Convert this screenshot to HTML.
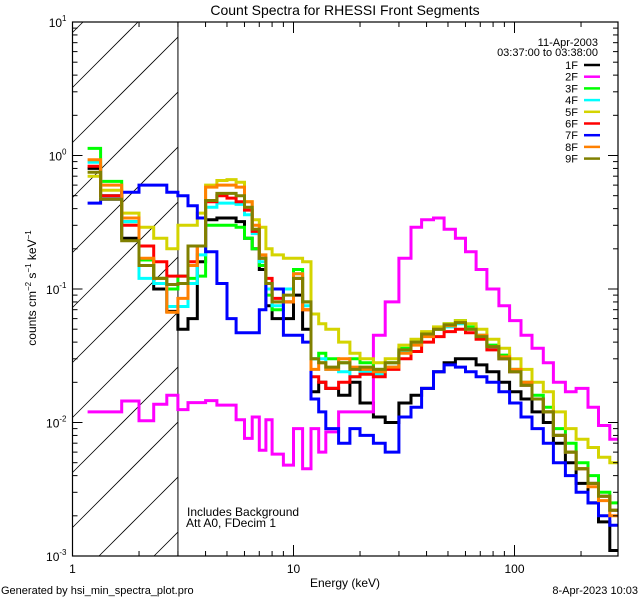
<!DOCTYPE html>
<html><head><meta charset="utf-8">
<style>
html,body{margin:0;padding:0;background:#fff;overflow:hidden;width:640px;height:600px;}
svg{display:block;font-family:"Liberation Sans",sans-serif;}
</style></head>
<body>
<svg id="chart" width="640" height="600" viewBox="0 0 640 600" xmlns="http://www.w3.org/2000/svg">
<rect width="640" height="600" fill="#fff"/>
<text x="345" y="15" font-size="14" text-anchor="middle">Count Spectra for RHESSI Front Segments</text>
<g id="hatch"></g>
<g id="series"></g>
<g id="axes"></g>
<g id="legend"></g>
<text x="345" y="587" font-size="12" text-anchor="middle">Energy (keV)</text>
<text transform="translate(36,288) rotate(-90)" font-size="12" text-anchor="middle">counts cm<tspan dy="-5" font-size="8">−2</tspan><tspan dy="5"> s</tspan><tspan dy="-5" font-size="8">−1</tspan><tspan dy="5"> keV</tspan><tspan dy="-5" font-size="8">−1</tspan></text>
<text x="187" y="516" font-size="12">Includes Background</text>
<text x="186" y="527" font-size="12">Att A0, FDecim 1</text>
<text x="1" y="594" font-size="11">Generated by hsi_min_spectra_plot.pro</text>
<text x="638" y="594" font-size="11" text-anchor="end">8-Apr-2023 10:03</text>
</svg>
<script>
const edges=[1.17,1.34,1.67,2,2.33,2.67,3,3.33,3.67,4,4.5,5,5.5,6,6.5,7,7.5,8,9,10,11,12,13,14,16,18,20,23,26,30,34,38,43,48,54,60,67,75,85,95,107,120,135,150,170,190,215,240,270,300];
const labels=["1F","2F","3F","4F","5F","6F","7F","8F","9F"];
const colors=["#000000","#ff00ff","#00ff00","#00ffff","#d4d400","#ff0000","#0000ff","#ff8000","#808000"];
const s1F=[0.8,0.5,0.24,0.15,0.10,0.068,0.05,0.06,0.16,0.33,0.34,0.34,0.32,0.24,0.2,0.14,0.075,0.06,0.06,0.09,0.05,0.017,0.02,0.018,0.016,0.02,0.014,0.011,0.01,0.014,0.016,0.018,0.024,0.028,0.03,0.03,0.027,0.024,0.02,0.017,0.015,0.012,0.01,0.007,0.005,0.0035,0.0025,0.0018,0.0011];
const s2F=[0.012,0.012,0.0145,0.0103,0.0137,0.016,0.0125,0.0141,0.0141,0.0146,0.0135,0.0135,0.0105,0.0076,0.011,0.0062,0.0105,0.0058,0.0048,0.009,0.0045,0.009,0.006,0.0085,0.012,0.012,0.012,0.045,0.08,0.17,0.29,0.33,0.34,0.28,0.24,0.19,0.14,0.1,0.075,0.058,0.045,0.036,0.028,0.02,0.017,0.018,0.013,0.0095,0.0075];
const s3F=[1.13,0.64,0.32,0.165,0.12,0.10,0.125,0.12,0.125,0.30,0.30,0.30,0.29,0.24,0.2,0.15,0.09,0.07,0.08,0.14,0.08,0.03,0.033,0.03,0.028,0.03,0.028,0.025,0.028,0.036,0.04,0.045,0.05,0.055,0.058,0.052,0.045,0.038,0.032,0.025,0.02,0.016,0.013,0.009,0.007,0.005,0.004,0.003,0.0025];
const s4F=[0.89,0.5,0.32,0.12,0.11,0.074,0.074,0.11,0.18,0.41,0.44,0.44,0.43,0.36,0.26,0.16,0.1,0.075,0.1,0.13,0.075,0.03,0.03,0.025,0.024,0.022,0.024,0.023,0.026,0.034,0.04,0.045,0.05,0.052,0.055,0.05,0.043,0.036,0.03,0.024,0.019,0.015,0.012,0.008,0.006,0.0045,0.0035,0.0028,0.0022];
const s5F=[0.70,0.55,0.37,0.29,0.24,0.20,0.30,0.30,0.37,0.6,0.65,0.66,0.63,0.45,0.33,0.29,0.2,0.18,0.17,0.17,0.16,0.065,0.055,0.05,0.04,0.033,0.03,0.028,0.03,0.038,0.042,0.048,0.052,0.055,0.058,0.055,0.05,0.042,0.036,0.03,0.025,0.02,0.017,0.012,0.009,0.0075,0.0065,0.0055,0.005];
const s6F=[0.83,0.5,0.30,0.21,0.16,0.125,0.125,0.16,0.21,0.45,0.5,0.48,0.45,0.39,0.27,0.17,0.12,0.085,0.08,0.12,0.07,0.022,0.02,0.018,0.02,0.022,0.023,0.022,0.025,0.03,0.034,0.04,0.044,0.048,0.05,0.047,0.042,0.035,0.03,0.024,0.019,0.015,0.012,0.008,0.006,0.0045,0.0035,0.0028,0.0022];
const s7F=[0.44,0.47,0.53,0.6,0.6,0.53,0.5,0.42,0.34,0.19,0.11,0.06,0.047,0.047,0.047,0.07,0.11,0.1,0.045,0.045,0.04,0.015,0.012,0.009,0.007,0.009,0.008,0.007,0.006,0.011,0.013,0.018,0.024,0.027,0.026,0.024,0.022,0.02,0.017,0.014,0.011,0.009,0.007,0.005,0.004,0.003,0.0025,0.002,0.0017];
const s8F=[0.93,0.6,0.34,0.17,0.12,0.067,0.085,0.15,0.21,0.58,0.6,0.6,0.58,0.45,0.3,0.18,0.11,0.08,0.08,0.13,0.07,0.025,0.028,0.025,0.03,0.026,0.025,0.024,0.026,0.033,0.038,0.044,0.05,0.053,0.056,0.05,0.045,0.037,0.031,0.025,0.02,0.015,0.012,0.008,0.006,0.0045,0.0033,0.0026,0.002];
const s9F=[0.75,0.47,0.23,0.15,0.12,0.108,0.11,0.21,0.21,0.46,0.52,0.52,0.5,0.41,0.28,0.17,0.11,0.08,0.09,0.12,0.08,0.03,0.028,0.026,0.028,0.025,0.026,0.025,0.028,0.035,0.04,0.046,0.05,0.054,0.056,0.05,0.044,0.037,0.03,0.024,0.019,0.015,0.012,0.008,0.006,0.0045,0.0035,0.0028,0.0022];
const seriesValues=[s1F,s2F,s3F,s4F,s5F,s6F,s7F,s8F,s9F];
const yTickExps=[-3,-2,-1,0,1];
const xTickLabels=["1","10","100"];
const xTickValues=[1,10,100];
const thresholdEnergy=3;
const dateText="11-Apr-2003";
const timeText="03:37:00 to 03:38:00";

const NS="http://www.w3.org/2000/svg";
const X0=72.5,X1=618,Y0=556,Y1=22,XDEC=221,XMAX=Math.pow(10,(X1-X0)/XDEC);
const YDEC=(Y0-Y1)/4;
function xs(e){return X0+XDEC*Math.log10(e);}
function ys(v){v=Math.max(v,1e-3);return Y0-YDEC*(Math.log10(v)+3);}
function mk(tag,attrs,parent){const el=document.createElementNS(NS,tag);for(const k in attrs)el.setAttribute(k,attrs[k]);parent.appendChild(el);return el;}

// hatch (lines clipped analytically to the region)
const hg=document.getElementById('hatch');
const XH=xs(thresholdEnergy);
for(let b=582.5-55*10;b<Y0+(XH-X0);b+=55){
  const xa=Math.max(X0,X0+b-Y0), xb=Math.min(XH,X0+b-Y1);
  if(xb<=xa)continue;
  const ln=mk('line',{x1:xa,y1:b-(xa-X0),x2:xb,y2:b-(xb-X0),stroke:'#000','stroke-width':0.8},hg);
  
  
}
const tl=mk('line',{x1:XH,y1:Y1,x2:XH,y2:Y0,stroke:'#000','stroke-width':1},hg);



// series
const sg=document.getElementById('series');
const sclip=mk('clipPath',{id:'pclip'},sg);
mk('rect',{x:X0,y:Y1,width:X1-X0,height:Y0-Y1},sclip);
const sgc=mk('g',{'clip-path':'url(#pclip)'},sg);
seriesValues.forEach((vals,i)=>{
  let d='';
  for(let k=0;k<vals.length;k++){
    const xa=xs(edges[k]),xb=Math.min(X1,xs(edges[k+1])),y=ys(vals[k]);
    d+=(k===0?'M':'L')+xa.toFixed(1)+','+y.toFixed(1)+'L'+xb.toFixed(1)+','+y.toFixed(1);
  }
  const p=mk('path',{d:d,fill:'none',stroke:colors[i],'stroke-width':3,'stroke-linejoin':'miter'},sgc);
  
  
});

// axes
const ag=document.getElementById('axes');
const frame=mk('rect',{x:X0,y:Y1,width:X1-X0,height:Y0-Y1,fill:'none',stroke:'#000','stroke-width':1.2},ag);


for(let dec=0;dec<3;dec++){
  for(let m=1;m<10;m++){
    const e=Math.pow(10,dec)*m; if(e>XMAX)break;
    const x=xs(e),len=(m===1)?11:5;
    mk('line',{x1:x,y1:Y0,x2:x,y2:Y0-len,stroke:'#000'},ag);
    mk('line',{x1:x,y1:Y1,x2:x,y2:Y1+len,stroke:'#000'},ag);
  }
}
xTickValues.forEach((v,i)=>{
  const t=mk('text',{x:xs(v),y:573,'font-size':12,'text-anchor':'middle'},ag);
  t.textContent=xTickLabels[i];
  
  
});
yTickExps.forEach(ex=>{
  const y=ys(Math.pow(10,ex));
  mk('line',{x1:X0,y1:y,x2:X0+10,y2:y,stroke:'#000'},ag);
  mk('line',{x1:X1,y1:y,x2:X1-10,y2:y,stroke:'#000'},ag);
  if(ex<1){for(let m=2;m<10;m++){const yy=ys(m*Math.pow(10,ex));
    mk('line',{x1:X0,y1:yy,x2:X0+5,y2:yy,stroke:'#000'},ag);
    mk('line',{x1:X1,y1:yy,x2:X1-5,y2:yy,stroke:'#000'},ag);}}
  const t=mk('text',{x:X0-6,y:y+5,'font-size':12,'text-anchor':'end'},ag);
  t.innerHTML='10<tspan dy="-6" font-size="8">'+ex+'</tspan>';
  
  
});

// legend
const lg=document.getElementById('legend');
const d1=mk('text',{x:598,y:46,'font-size':11,'text-anchor':'end'},lg);d1.textContent=dateText;


const d2=mk('text',{x:598,y:56,'font-size':11,'text-anchor':'end'},lg);d2.textContent=timeText;


labels.forEach((lab,i)=>{
  const y=65+11.7*i;
  const g=mk('g',{},lg);
  
  
  const t=mk('text',{x:578,y:y+4,'font-size':11,'text-anchor':'end'},g);t.textContent=lab;
  mk('line',{x1:584,y1:y,x2:600,y2:y,stroke:colors[i],'stroke-width':2.5},g);
});
</script>
</body></html>
